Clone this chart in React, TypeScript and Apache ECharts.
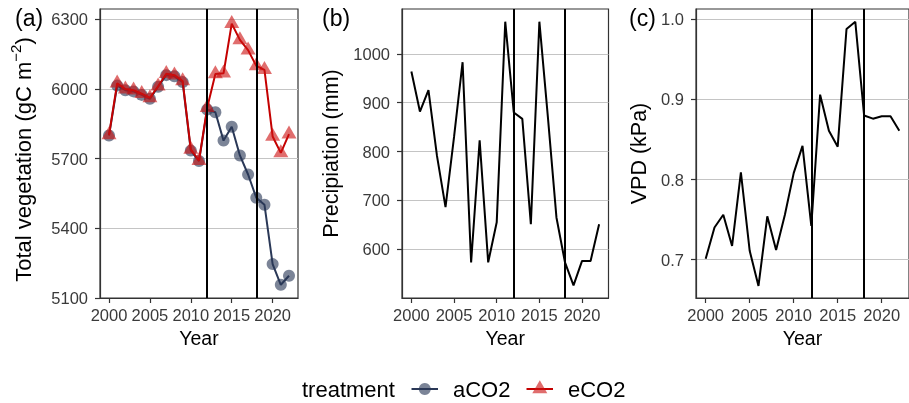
import React, { useEffect, useRef } from "react";
import * as echarts from "echarts";

const years = [2000, 2001, 2002, 2003, 2004, 2005, 2006, 2007, 2008, 2009, 2010, 2011, 2012, 2013, 2014, 2015, 2016, 2017, 2018, 2019, 2020, 2021, 2022];
const vegACO2 = [5800, 6015, 5995, 5990, 5975, 5958, 6010, 6060, 6055, 6030, 5735, 5690, 5912, 5900, 5778, 5838, 5714, 5632, 5532, 5502, 5246, 5157, 5196];
const vegECO2 = [5802, 6025, 6000, 5995, 5980, 5962, 6012, 6066, 6060, 6035, 5740, 5692, 5920, 6065, 6068, 6282, 6212, 6168, 6100, 6083, 5796, 5725, 5806];
const precip = [964, 882, 926, 791, 686, 830, 983, 573, 823, 573, 655, 1066, 880, 867, 651, 1066, 870, 665, 573, 526, 576, 576, 651];
const vpd = [0.701, 0.740, 0.756, 0.717, 0.809, 0.711, 0.667, 0.754, 0.712, 0.756, 0.808, 0.842, 0.742, 0.906, 0.861, 0.841, 0.988, 0.997, 0.880, 0.876, 0.879, 0.879, 0.861];
const yearTicks = [2000, 2005, 2010, 2015, 2020];
const vegTicks = [5100, 5400, 5700, 6000, 6300];
const precipTicks = [600, 700, 800, 900, 1000];
const vpdTicks = [0.7, 0.8, 0.9, 1.0];
const breakYears = [2012, 2018];
const treatments = ["aCO2", "eCO2"];
const panelTags = ["(a)", "(b)", "(c)"];

const FONT = "'Liberation Sans', Arial, Helvetica, sans-serif";
const NAVY = "#2A3857";
const NAVY_FILL = "rgba(42,56,87,0.62)";
const RED = "#C40000";
const RED_FILL = "rgba(205,20,20,0.62)";
const AXIS = "#333333";
const LABEL = "#3a3a3a";
const LW = 2;

function pairs(vals: number[]) {
  return years.map((y, i) => [y, vals[i]]);
}

function xAxis(i: number) {
  return {
    type: "value",
    gridIndex: i,
    min: 1998.9,
    max: 2023.1,
    axisLine: { show: true, onZero: false, lineStyle: { color: AXIS, width: 1.2 } },
    axisTick: { show: true, length: 5, customValues: yearTicks, lineStyle: { color: AXIS, width: 1.2 } },
    axisLabel: {
      customValues: yearTicks,
      formatter: (v: number) => String(v),
      color: LABEL,
      fontSize: 16.5,
      fontFamily: FONT,
      margin: 8,
    },
    splitLine: { show: false },
    name: "Year",
    nameLocation: "middle",
    nameGap: 30,
    nameTextStyle: { fontSize: 19.5, color: "#000", fontFamily: FONT },
  };
}

function yAxis(i: number, min: number, max: number, ticks: number[], name: string, gap: number, extra: any, fmt: (v: number) => string, interval?: number) {
  const a: any = {
    type: "value",
    gridIndex: i,
    min,
    max,
    axisLine: { show: true, onZero: false, lineStyle: { color: AXIS, width: 1.2 } },
    axisTick: { show: true, length: 5, customValues: ticks, lineStyle: { color: AXIS, width: 1.2 } },
    axisLabel: {
      customValues: ticks,
      formatter: fmt,
      color: LABEL,
      fontSize: 16.5,
      fontFamily: FONT,
      margin: 12,
    },
    splitLine: { show: true, lineStyle: { color: "#c4c4c4", width: 1 } },
    name,
    nameLocation: "middle",
    nameGap: gap,
    nameTextStyle: { fontSize: 21.5, color: "#000", fontFamily: FONT, ...extra },
  };
  if (interval !== undefined) a.interval = interval;
  else a.splitNumber = 4;
  return a;
}

function breakLines() {
  return {
    silent: true,
    symbol: ["none", "none"],
    label: { show: false },
    lineStyle: { color: "#000", width: LW, type: "solid" },
    data: breakYears.map((y) => ({ xAxis: y })),
  };
}

export default function App() {
  const ref = useRef<HTMLDivElement>(null);
  useEffect(() => {
    if (!ref.current) return;
    const chart = echarts.init(ref.current, undefined, { renderer: "svg" });
    const gridBase = { show: true, borderColor: AXIS, borderWidth: 1.2, backgroundColor: "transparent", containLabel: false };
    const legendY = 389;
    const option: any = {
      animation: false,
      grid: [
        { ...gridBase, left: 100, top: 9, width: 198, height: 289 },
        { ...gridBase, left: 402, top: 9, width: 206.5, height: 289 },
        { ...gridBase, left: 696, top: 9, width: 221, height: 289 },
      ],
      xAxis: [xAxis(0), xAxis(1), xAxis(2)],
      yAxis: [
        yAxis(0, 5100, 6345, vegTicks, "{m|Total vegetation (gC m}{s|−2}{m|)}", 62,
          {
            padding: [0, 12, 0, 0],
            rich: {
              m: { fontSize: 22, fontFamily: FONT, color: "#000", lineHeight: 30 },
              s: { fontSize: 15, fontFamily: FONT, color: "#000", lineHeight: 15, verticalAlign: "top" },
            },
          },
          (v: number) => String(v), 300),
        yAxis(1, 500, 1092, precipTicks, "Precipiation (mm)", 60, {}, (v: number) => String(v), 100),
        yAxis(2, 0.652, 1.013, vpdTicks, "VPD (kPa)", 46, {}, (v: number) => v.toFixed(1)),
      ],
      series: [
        {
          name: treatments[0],
          type: "line",
          xAxisIndex: 0,
          yAxisIndex: 0,
          data: pairs(vegACO2),
          symbol: "circle",
          symbolSize: 12,
          showSymbol: true,
          itemStyle: { color: NAVY_FILL, borderWidth: 0 },
          lineStyle: { color: NAVY, width: LW },
          markLine: breakLines(),
          z: 2,
        },
        {
          name: treatments[1],
          type: "line",
          xAxisIndex: 0,
          yAxisIndex: 0,
          data: pairs(vegECO2),
          symbol: "triangle",
          symbolSize: [15, 13],
          symbolOffset: [0, -2.2],
          showSymbol: true,
          itemStyle: { color: RED_FILL, borderWidth: 0 },
          lineStyle: { color: RED, width: LW },
          z: 3,
        },
        {
          type: "line",
          xAxisIndex: 1,
          yAxisIndex: 1,
          data: pairs(precip),
          symbol: "none",
          lineStyle: { color: "#000", width: LW },
          markLine: breakLines(),
        },
        {
          type: "line",
          xAxisIndex: 2,
          yAxisIndex: 2,
          data: pairs(vpd),
          symbol: "none",
          lineStyle: { color: "#000", width: LW },
          markLine: breakLines(),
        },
      ],
      graphic: [
        { type: "text", x: 15, y: 18, style: { text: panelTags[0], fontSize: 23, fontFamily: FONT, fill: "#000", verticalAlign: "middle" } },
        { type: "text", x: 322, y: 18, style: { text: panelTags[1], fontSize: 23, fontFamily: FONT, fill: "#000", verticalAlign: "middle" } },
        { type: "text", x: 629, y: 18, style: { text: panelTags[2], fontSize: 23, fontFamily: FONT, fill: "#000", verticalAlign: "middle" } },
        { type: "text", x: 302, y: legendY, style: { text: "treatment", fontSize: 22, fontFamily: FONT, fill: "#000", verticalAlign: "middle" } },
        { type: "line", shape: { x1: 411.5, y1: legendY, x2: 438, y2: legendY }, style: { stroke: NAVY, lineWidth: LW } },
        { type: "circle", shape: { cx: 424.8, cy: legendY, r: 6 }, style: { fill: NAVY_FILL } },
        { type: "text", x: 453, y: legendY, style: { text: treatments[0], fontSize: 22, fontFamily: FONT, fill: "#000", verticalAlign: "middle" } },
        { type: "line", shape: { x1: 526.5, y1: legendY, x2: 553, y2: legendY }, style: { stroke: RED, lineWidth: LW } },
        {
          type: "polygon",
          shape: { points: [[539.8, legendY - 8.7], [547.3, legendY + 4.3], [532.3, legendY + 4.3]] },
          style: { fill: RED_FILL },
        },
        { type: "text", x: 568, y: legendY, style: { text: treatments[1], fontSize: 22, fontFamily: FONT, fill: "#000", verticalAlign: "middle" } },
      ],
    };
    chart.setOption(option);
    return () => chart.dispose();
  }, []);
  return <div ref={ref} style={{ position: "fixed", left: 0, top: 0, width: 909, height: 403 }} />;
}
